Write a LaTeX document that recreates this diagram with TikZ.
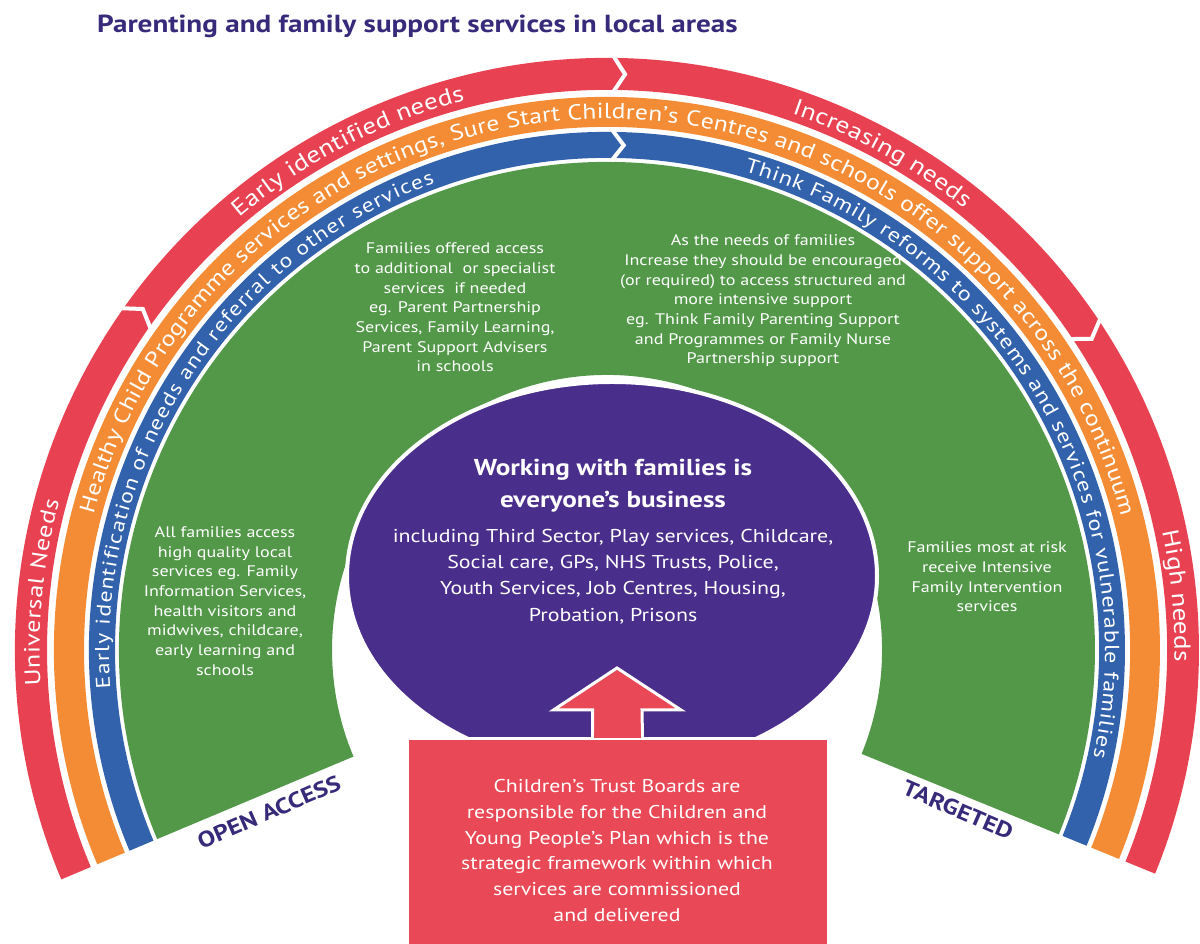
\documentclass[tikz,border=0pt]{standalone}
\usepackage{fontspec}
\setmainfont{PT Sans}[FakeStretch=1.18]
\usetikzlibrary{calc,decorations.text,shapes.geometric}
\definecolor{bandred}{RGB}{232,66,82}
\definecolor{bandorange}{RGB}{243,140,52}
\definecolor{bandblue}{RGB}{50,98,172}
\definecolor{fieldgreen}{RGB}{82,152,72}
\definecolor{ovalpurple}{RGB}{74,46,140}
\definecolor{boxred}{RGB}{233,72,86}
\definecolor{titlenavy}{RGB}{55,42,122}
% annular sector: colour, inner r, outer r, start angle, end angle
\newcommand\annsector[5]{\fill[#1] ($(C)+(#4:#3)$) arc[start angle=#4, end angle=#5, radius=#3] -- ($(C)+(#5:#2)$) arc[start angle=#5, end angle=#4, radius=#2] -- cycle;}
% text on arc: radius, start, end, font size, text
\newcommand\arctext[5]{\path[decorate,decoration={text along path, text align=fit to path, text color=white, text={|\fontsize{#4}{#4}\selectfont|#5}}] ($(C)+(#2:#1)$) arc[start angle=#2, end angle=#3, radius=#1];}
\tikzset{
  greentext/.style={text=white, align=center, inner sep=0pt, font=\fontsize{15.3}{19.7}\selectfont},
  ovalhead/.style={text=white, align=center, inner sep=0pt, font=\bfseries\fontsize{23}{32}\selectfont},
  ovaltext/.style={text=white, align=center, inner sep=0pt, font=\fontsize{18.6}{26.3}\selectfont},
  boxtext/.style={text=white, align=center, inner sep=0pt, font=\fontsize{18.5}{25.8}\selectfont},
  edgelabel/.style={text=titlenavy, inner sep=0pt, font=\bfseries\fontsize{22}{22}\selectfont},
  breakline/.style={white, line width=4pt, line join=miter},
}
\begin{document}
\begin{tikzpicture}[x=1pt,y=1pt]
\useasboundingbox (0,0) rectangle (1200,944);
\fill[white] (0,0) rectangle (1200,944);
\coordinate (C) at (607,294);

% title
\node[anchor=base west, inner sep=0pt, text=titlenavy, font=\bfseries\fontsize{24.7}{25}\selectfont] (title) at (97,911) {Parenting and family support services in local areas};

% bands
\annsector{bandred}{560}{592}{202.8}{-22.2}
\annsector{bandorange}{523}{553}{202.8}{-22.2}
\annsector{bandblue}{492}{518}{202.8}{-22.2}
\annsector{fieldgreen}{275}{488}{202.8}{-22.2}

% chevron breaks
\draw[breakline] ($(C)+(145:596)$) -- ($(C)+(143.7:576)$) -- ($(C)+(145:556)$);
\draw[breakline] ($(C)+(89.5:596)$) -- ($(C)+(88.2:576)$) -- ($(C)+(89.5:556)$);
\draw[breakline] ($(C)+(34:596)$) -- ($(C)+(32.7:576)$) -- ($(C)+(34:556)$);
\draw[breakline] ($(C)+(89.5:521)$) -- ($(C)+(88.1:505)$) -- ($(C)+(89.5:489)$);

% band texts
\arctext{567.5}{183.6}{164.8}{22}{Universal Needs}
\arctext{567.5}{130.4}{104.5}{23}{Early identified needs}
\arctext{567.5}{71}{51}{23}{Increasing needs}
\arctext{567.5}{12}{-0.7}{23}{High needs}
\arctext{531}{165.2}{14.7}{21.7}{Healthy Child Programme services and settings, Sure Start Children's Centres and schools offer support across the continuum}
\arctext{498}{184.4}{110.3}{20}{Early identification of needs and referral to other services}
\arctext{498}{74}{-12.3}{20.3}{Think Family reforms to systems and services for vulnerable families}

% green texts
\node[greentext] (allfam) at (225,343) {All families access\\high quality local\\services eg. Family\\Information Services,\\health visitors and\\midwives, childcare,\\early learning and\\schools};
\node[greentext] (offered) at (455,636.5) {Families offered access\\to additional\ \ or specialist\\services\ \ if needed\\eg. Parent Partnership\\Services, Family Learning,\\Parent Support Advisers\\in schools};
\node[greentext] (needs) at (763,643) {As the needs of families\\Increase they should be encouraged\\(or required) to access structured and\\more intensive support\\eg. Think Family Parenting Support\\and Programmes or Family Nurse\\Partnership support};
\node[greentext] (risk) at (987,367) {Families most at risk\\receive Intensive\\Family Intervention\\services};

% oval
\node[ellipse, draw=white, line width=4pt, fill=ovalpurple, minimum width=530pt, minimum height=388pt, inner sep=0pt] (oval) at (612,368) {};
\node[ovalhead] (ovalhd) at (613,458) {Working with families is\\everyone’s business};
\node[ovaltext] (ovallist) at (613,367.5) {including Third Sector, Play services, Childcare,\\Social care, GPs, NHS Trusts, Police,\\Youth Services, Job Centres, Housing,\\Probation, Prisons};

% board box and block arrow
\node[rectangle, fill=boxred, draw=white, line width=3pt, minimum width=421pt, minimum height=230pt, anchor=north, inner sep=0pt] (board) at (617.5,207) {};
\fill[boxred, draw=white, line width=3pt] ([xshift=-25pt]board.north) -- ++(0,27) -- ++(-39,0) -- (617,276) -- (681,234) -- (642,234) -- ([xshift=25pt]board.north);
\fill[boxred] ([xshift=-23.5pt,yshift=-1.5pt]board.north) rectangle ([xshift=23.5pt,yshift=6pt]board.north);
\node[boxtext] (boardtext) at (617,93.5) {Children's Trust Boards are\\responsible for the Children and\\Young People's Plan which is the\\strategic framework within which\\services are commissioned\\and delivered};

% access labels
\node[edgelabel, rotate=23.3] (openacc) at (269,132) {OPEN ACCESS};
\node[edgelabel, rotate=-23.3] (targeted) at (958,134) {TARGETED};
\end{tikzpicture}
\end{document}
